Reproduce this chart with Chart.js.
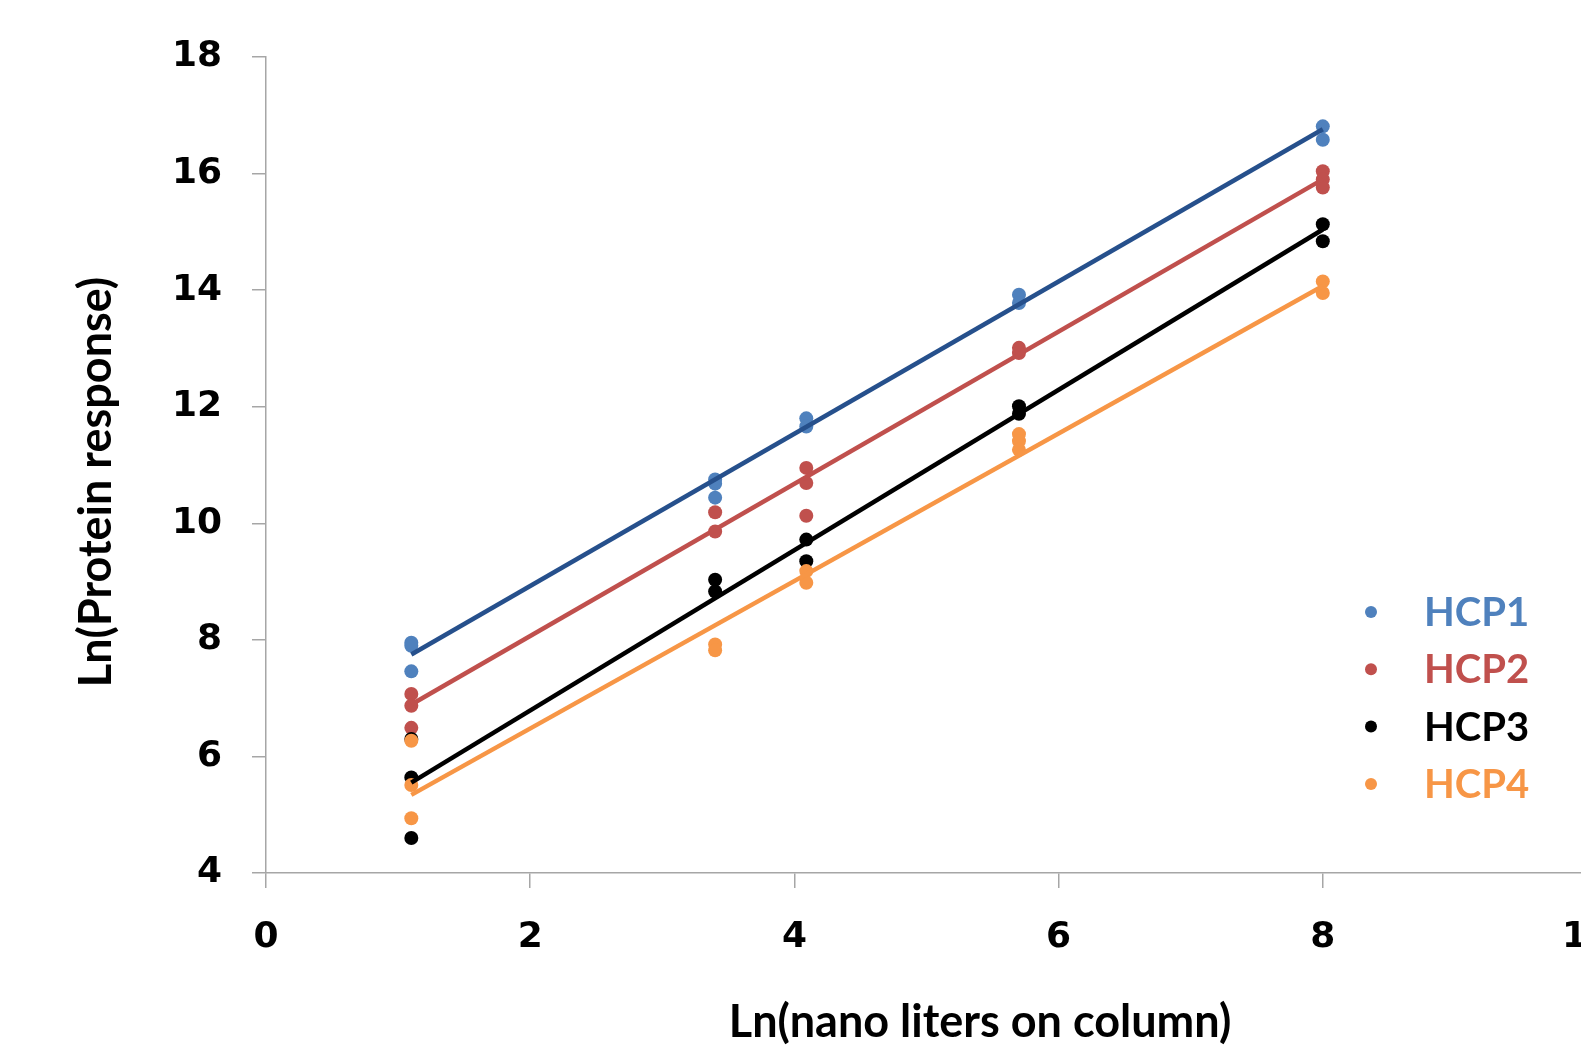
<!DOCTYPE html>
<html>
<head>
<meta charset="utf-8">
<script src="https://cdn.jsdelivr.net/npm/chart.js@4"></script>
<style>
html,body{margin:0;padding:0;background:#fff;overflow:hidden;}
#wrap{width:1620px;height:1052px;}
</style>
</head>
<body>
<div id="wrap"><canvas id="c" width="1620" height="1052"></canvas></div>
<script>
// ---- data ----
const seriesNames = ["HCP1", "HCP2", "HCP3", "HCP4"];
const pointColors = ["#4F81BD", "#C0504D", "#000000", "#F79646"];
const lineColors  = ["#26508C", "#C0504D", "#000000", "#F79646"];

const hcp1X = [1.10, 1.10, 1.10, 3.40, 3.40, 3.40, 4.09, 4.09, 5.70, 5.70, 8.00, 8.00];
const hcp1Y = [7.95, 7.90, 7.46, 10.75, 10.68, 10.44, 11.80, 11.66, 13.92, 13.78, 16.81, 16.58];

const hcp2X = [1.10, 1.10, 1.10, 3.40, 3.40, 4.09, 4.09, 4.09, 5.70, 5.70, 8.00, 8.00, 8.00];
const hcp2Y = [7.07, 6.87, 6.49, 10.19, 9.86, 10.95, 10.69, 10.13, 13.01, 12.92, 16.04, 15.90, 15.76];

const hcp3X = [1.10, 1.10, 1.10, 3.40, 3.40, 4.09, 4.09, 5.70, 5.70, 8.00, 8.00];
const hcp3Y = [6.30, 5.64, 4.60, 9.03, 8.83, 9.72, 9.35, 12.01, 11.88, 15.13, 14.84];

const hcp4X = [1.10, 1.10, 1.10, 3.40, 3.40, 4.09, 4.09, 5.70, 5.70, 5.70, 8.00, 8.00];
const hcp4Y = [6.27, 5.51, 4.94, 7.92, 7.82, 9.18, 8.98, 11.53, 11.41, 11.26, 14.15, 13.95];

// linear trend lines (start / end)
const trendX = [1.10, 8.00];
const trend1 = [7.75, 16.76];
const trend2 = [6.89, 15.90];
const trend3 = [5.55, 15.04];
const trend4 = [5.34, 14.07];

const xTitle = "Ln(nano liters on column)";
const yTitle = "Ln(Protein response)";
const xMin = 0, xMax = 10, xStep = 2;
const yMin = 4, yMax = 18, yStep = 2;

// ---- build datasets ----
const pts = (xs, ys) => xs.map((x, i) => ({x: x, y: ys[i]}));
const allX = [hcp1X, hcp2X, hcp3X, hcp4X];
const allY = [hcp1Y, hcp2Y, hcp3Y, hcp4Y];
const trends = [trend1, trend2, trend3, trend4];

const datasets = [];
for (let i = 0; i < 4; i++) {
  datasets.push({
    type: 'scatter',
    label: seriesNames[i],
    data: pts(allX[i], allY[i]),
    backgroundColor: pointColors[i],
    borderColor: pointColors[i],
    pointRadius: 7,
    pointBorderWidth: 0,
    order: 10 - i
  });
}
for (let i = 0; i < 4; i++) {
  datasets.push({
    type: 'line',
    label: seriesNames[i] + ' trend',
    data: pts(trendX, trends[i]),
    borderColor: lineColors[i],
    backgroundColor: lineColors[i],
    borderWidth: 4.5,
    pointRadius: 0,
    fill: false,
    order: 4 - i
  });
}

const titleFont = "bold 45px 'Liberation Sans Narrow', 'Lato', sans-serif";
const legendFont = "bold 40px 'Lato', 'Liberation Sans', sans-serif";

const decorPlugin = {
  id: 'decor',
  afterDraw(chart) {
    const ctx = chart.ctx;
    ctx.save();
    ctx.fillStyle = '#000';
    ctx.font = titleFont;
    ctx.textAlign = 'center';
    ctx.textBaseline = 'middle';
    ctx.fillText(xTitle, 980, 1022);
    ctx.translate(96, 482);
    ctx.rotate(-Math.PI / 2);
    ctx.fillText(yTitle, 0, 0);
    ctx.restore();

    ctx.save();
    ctx.font = legendFont;
    ctx.textBaseline = 'middle';
    ctx.textAlign = 'left';
    for (let i = 0; i < seriesNames.length; i++) {
      const y = 612 + i * 57.3;
      ctx.fillStyle = pointColors[i];
      ctx.beginPath();
      ctx.arc(1371, y, 6, 0, Math.PI * 2);
      ctx.fill();
      ctx.fillText(seriesNames[i], 1424, y + 1);
    }
    ctx.restore();
  }
};

const tickFont = {family: "'DejaVu Sans', sans-serif", size: 36, weight: 'bold'};
const axisGray = '#A6A6A6';

new Chart(document.getElementById('c'), {
  data: {datasets: datasets},
  options: {
    responsive: false,
    animation: false,
    events: [],
    layout: {padding: {top: 57, right: 33, left: 0, bottom: 0}},
    plugins: {legend: {display: false}, tooltip: {enabled: false}},
    scales: {
      x: {
        type: 'linear',
        min: xMin, max: xMax,
        ticks: {stepSize: xStep, color: '#000', font: tickFont, padding: 28, maxRotation: 0},
        grid: {drawOnChartArea: false, drawTicks: true, tickLength: 15, color: axisGray, lineWidth: 1.5},
        border: {display: true, color: axisGray, width: 1.5},
        afterFit(s) { s.height = 179; s.paddingLeft = 0; s.paddingRight = 0; }
      },
      y: {
        type: 'linear',
        min: yMin, max: yMax,
        ticks: {stepSize: yStep, color: '#000', font: tickFont, padding: 30},
        grid: {drawOnChartArea: false, drawTicks: true, tickLength: 14, color: axisGray, lineWidth: 1.5},
        border: {display: true, color: axisGray, width: 1.5},
        afterFit(s) { s.width = 266; s.paddingTop = 0; s.paddingBottom = 0; }
      }
    }
  },
  plugins: [decorPlugin]
});
</script>
</body>
</html>
